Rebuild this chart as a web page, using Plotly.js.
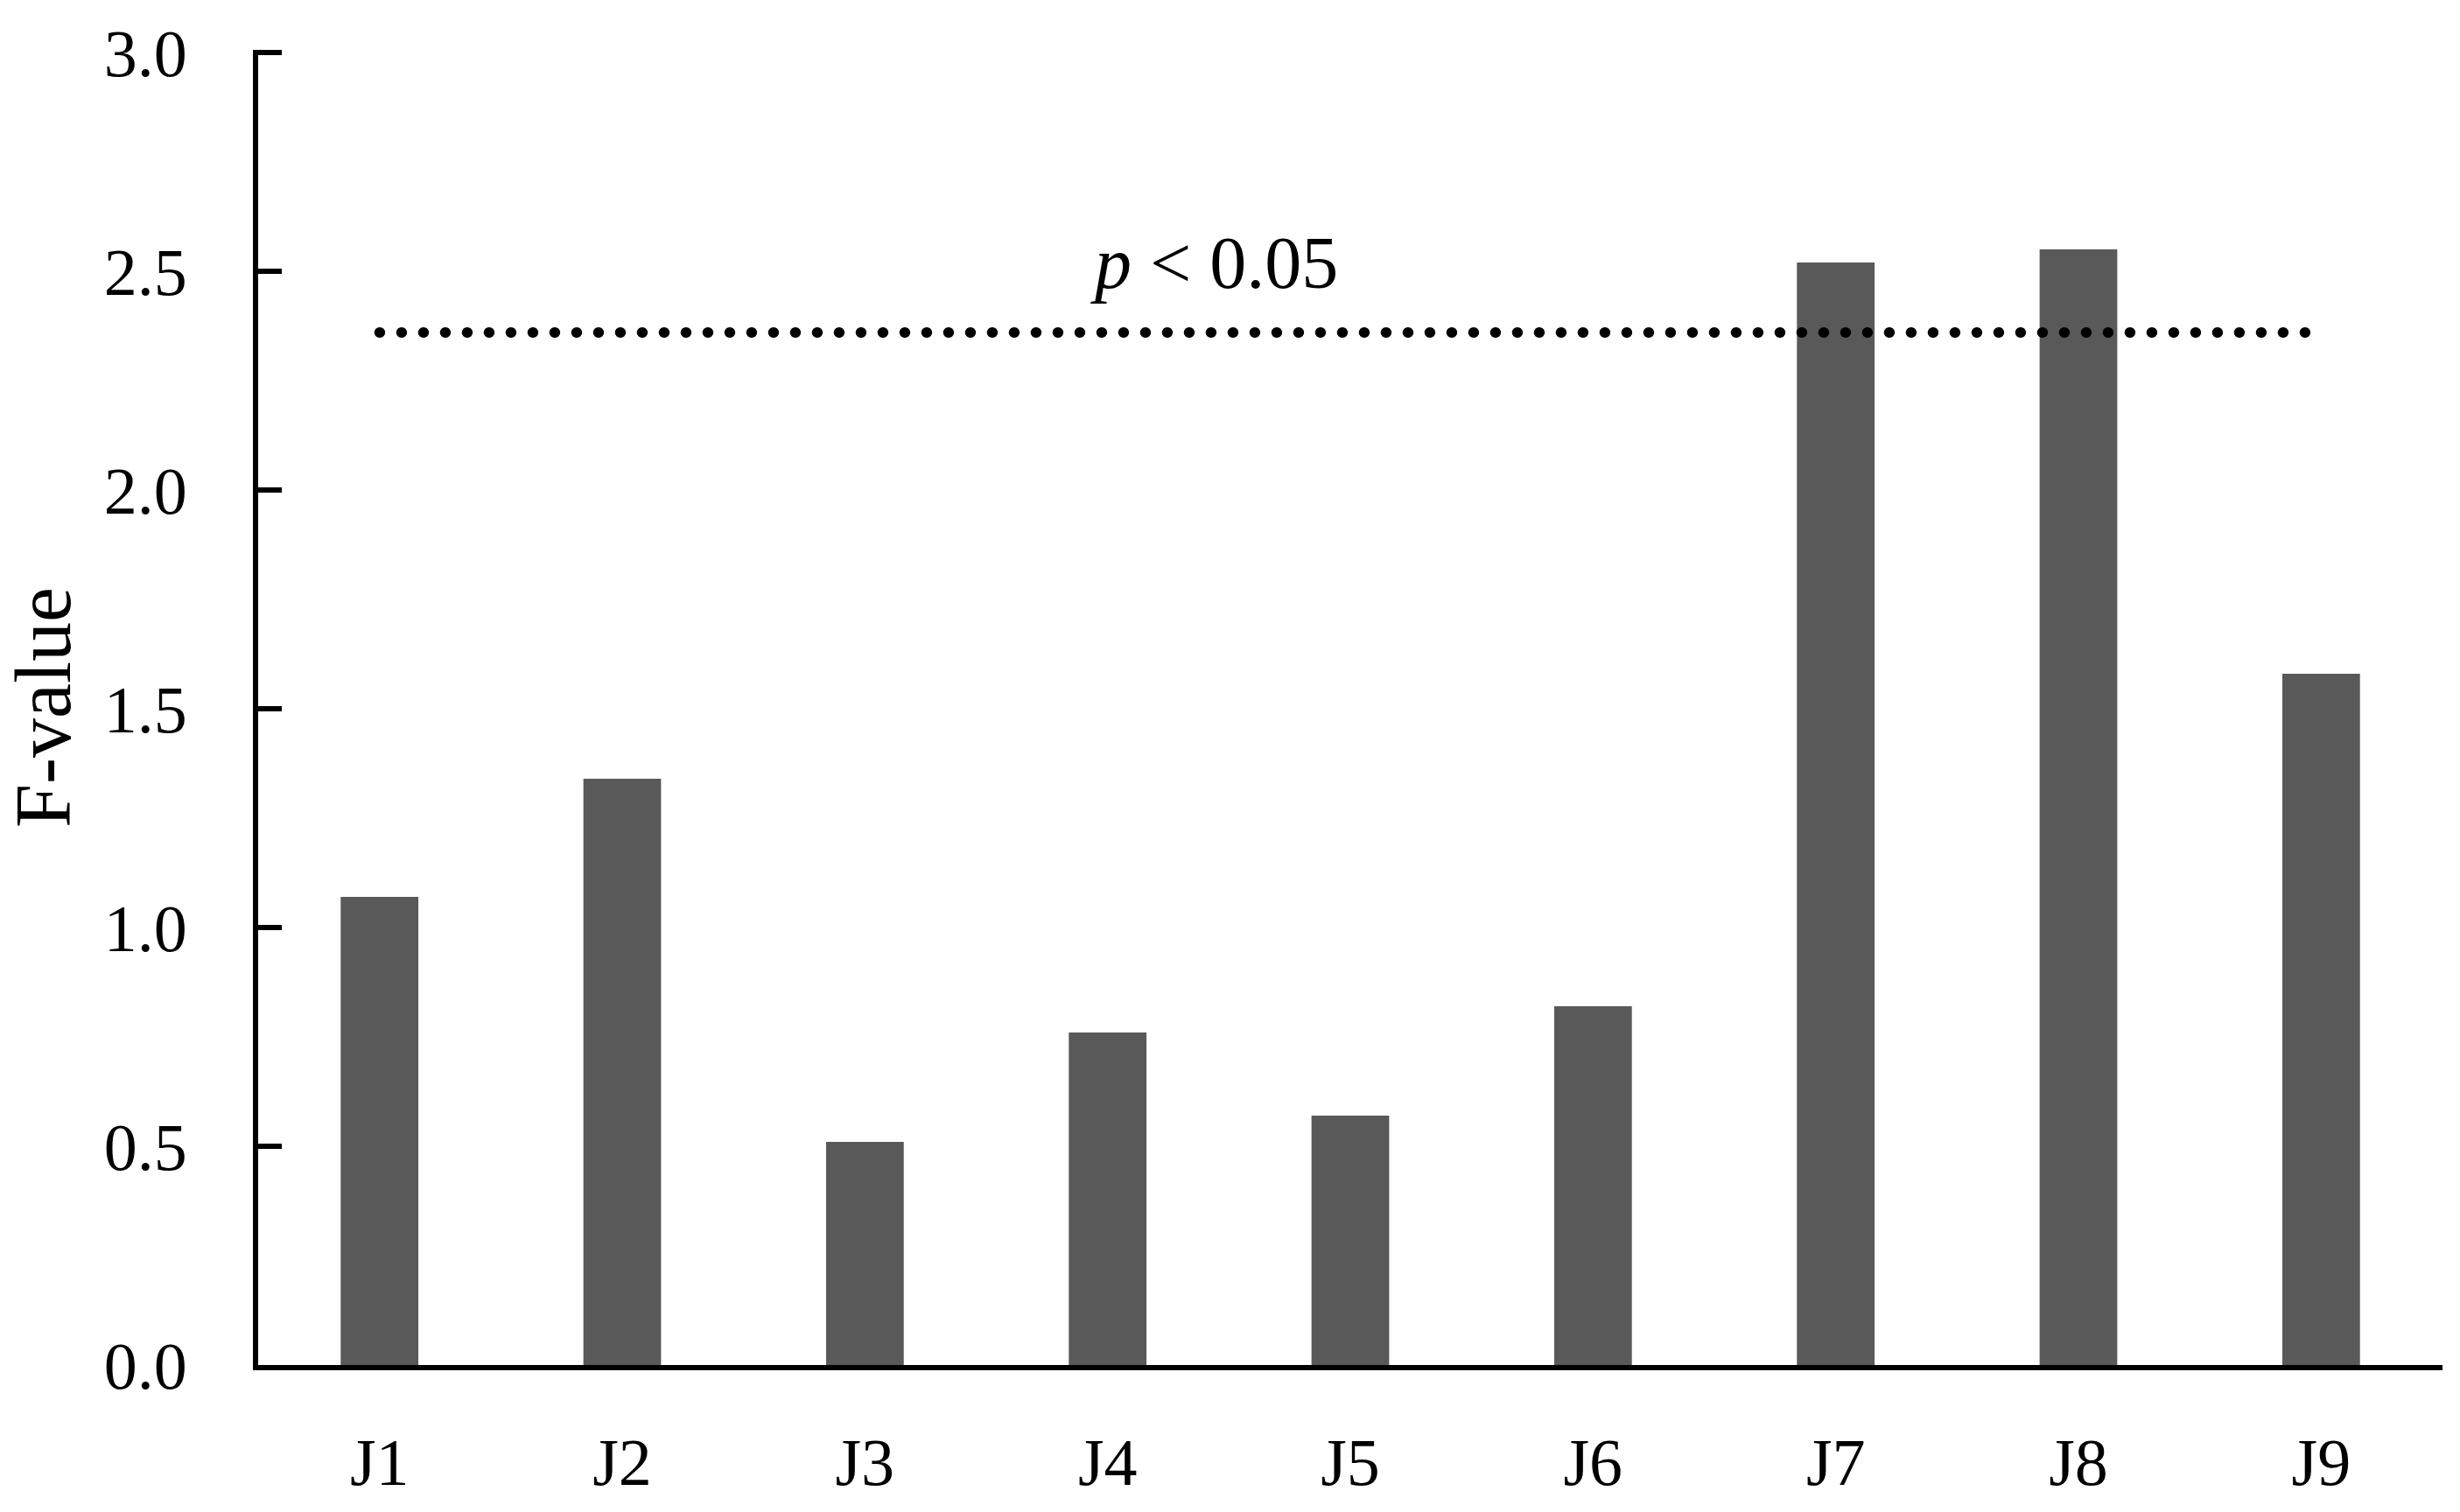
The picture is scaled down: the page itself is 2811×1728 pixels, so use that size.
<!DOCTYPE html>
<html>
<head>
<meta charset="utf-8">
<script src="https://cdn.plot.ly/plotly-3.0.1.min.js"></script>
<style>
  html, body { margin: 0; padding: 0; background: #fff; }
  #fig { width: 2811px; height: 1728px; }
  /* round caps so the dotted threshold line draws as round dots */
  #fig path.js-line { stroke-linecap: round; }
</style>
</head>
<body>
<div id="fig"></div>
<script>
var categories = ['J1', 'J2', 'J3', 'J4', 'J5', 'J6', 'J7', 'J8', 'J9'];
var fValues = [1.07, 1.34, 0.51, 0.76, 0.57, 0.82, 2.52, 2.55, 1.58];
var yTicks = [0, 0.5, 1.0, 1.5, 2.0, 2.5, 3.0];
var yTickText = ['0.0', '0.5', '1.0', '1.5', '2.0', '2.5', '3.0'];
var thresholdX = ['J1', 'J9'];
var thresholdY = [2.36, 2.36];

var serif = '"Liberation Serif", "DejaVu Serif", serif';

// bars
var bars = {
  x: categories,
  y: fValues,
  type: 'bar',
  marker: {color: '#595959'},
  hoverinfo: 'none',
  showlegend: false
};

// p < 0.05 line
var thresh = {
  x: thresholdX,
  y: thresholdY,
  mode: 'lines',
  type: 'scatter',
  line: {color: '#000', width: 12, dash: '0.5px,24.5px'},
  hoverinfo: 'none',
  showlegend: false
};

var layout = {
  width: 2811,
  height: 1728,
  margin: {l: 295, r: 20, t: 57, b: 168},
  paper_bgcolor: '#fff',
  plot_bgcolor: '#fff',
  bargap: 0.68,
  font: {family: serif, color: '#000'},
  annotations: [{
    xref: 'x',
    yref: 'y',
    x: 3.44,
    y: 2.52,
    xanchor: 'center',
    yanchor: 'middle',
    text: '<i>p</i> &lt; 0.05',
    showarrow: false,
    font: {family: serif, size: 84, color: '#000'}
  }],
  xaxis: {
    type: 'category',
    range: [-0.5, 8.5],
    showgrid: false,
    zeroline: false,
    showline: true,
    linewidth: 6,
    linecolor: '#000',
    ticks: '',
    ticklabelstandoff: 40,
    tickfont: {family: serif, size: 76, color: '#000'}
  },
  yaxis: {
    // a hair above 3 so the top tick still gets drawn
    range: [0, 3.006],
    tickvals: yTicks,
    ticktext: yTickText,
    showgrid: false,
    zeroline: false,
    showline: true,
    linewidth: 6,
    linecolor: '#000',
    ticks: 'inside',
    ticklen: 27,
    tickwidth: 6,
    tickcolor: '#000',
    ticklabelstandoff: 60,
    tickfont: {family: serif, size: 76, color: '#000'},
    title: {
      text: 'F-value',
      standoff: 36,
      font: {family: serif, size: 90, color: '#000'}
    }
  }
};

Plotly.newPlot('fig', [bars, thresh], layout, {displayModeBar: false, staticPlot: true});
</script>
</body>
</html>
